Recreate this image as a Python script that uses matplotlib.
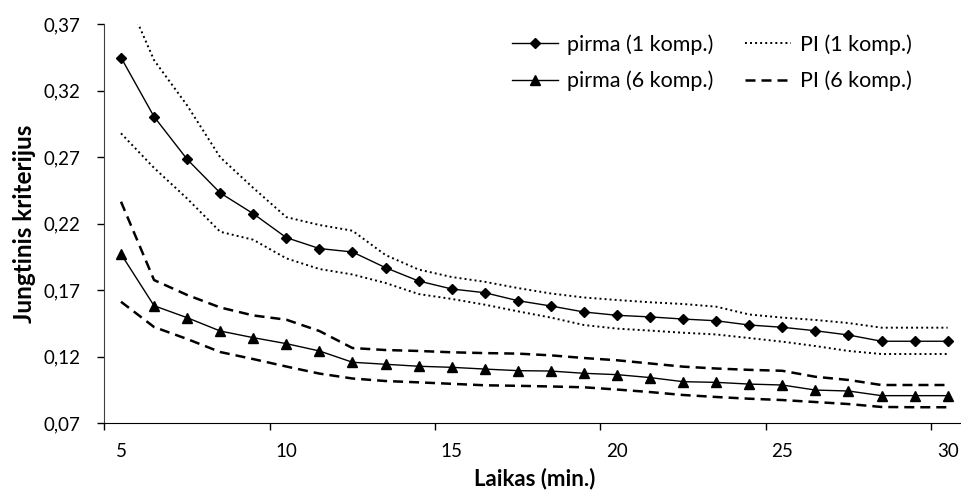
import matplotlib.pyplot as plt
from matplotlib.ticker import FixedLocator

# Laikas (min.) - kategorijos
laikas = list(range(5, 31))

# pirma (1 komp.) ir jos prognozes intervalas
pirma_1 = [0.345, 0.3005, 0.2685, 0.2432, 0.2276, 0.2096, 0.2014, 0.1988, 0.1870, 0.1770,
           0.1710, 0.1682, 0.1622, 0.1582, 0.1537, 0.1512, 0.1500, 0.1484, 0.1471, 0.1439,
           0.1422, 0.1396, 0.1364, 0.1317, 0.1317, 0.1317]
pi_1_virsus = [0.400, 0.343, 0.309, 0.270, 0.247, 0.225, 0.2191, 0.2148, 0.1965, 0.1856,
               0.1800, 0.1764, 0.1717, 0.1676, 0.1646, 0.1627, 0.1610, 0.1597, 0.1577, 0.1518,
               0.1495, 0.1477, 0.1454, 0.1419, 0.1419, 0.1419]
pi_1_apacia = [0.288, 0.262, 0.239, 0.214, 0.208, 0.194, 0.1860, 0.1819, 0.1755, 0.1672,
               0.1635, 0.1592, 0.1542, 0.1495, 0.1439, 0.1412, 0.1397, 0.1381, 0.1368, 0.1341,
               0.1314, 0.1281, 0.1244, 0.1221, 0.1221, 0.1221]

# pirma (6 komp.) ir jos prognozes intervalas
pirma_6 = [0.1973, 0.1584, 0.1494, 0.1394, 0.1344, 0.1299, 0.1244, 0.1159, 0.1144, 0.1129,
           0.1121, 0.1108, 0.1096, 0.1093, 0.1076, 0.1066, 0.1044, 0.1013, 0.1008, 0.0995,
           0.0988, 0.0950, 0.0943, 0.0908, 0.0908, 0.0908]
pi_6_virsus = [0.2366, 0.1777, 0.1665, 0.1571, 0.1511, 0.1479, 0.1394, 0.1266, 0.1251, 0.1244,
               0.1234, 0.1228, 0.1224, 0.1211, 0.1191, 0.1174, 0.1150, 0.1126, 0.1112, 0.1102,
               0.1095, 0.1050, 0.1026, 0.0988, 0.0988, 0.0988]
pi_6_apacia = [0.1614, 0.1424, 0.1334, 0.1236, 0.1183, 0.1127, 0.1074, 0.1037, 0.1018, 0.1008,
               0.0997, 0.0986, 0.0982, 0.0977, 0.0971, 0.0954, 0.0935, 0.0913, 0.0898, 0.0885,
               0.0875, 0.0860, 0.0845, 0.0823, 0.0821, 0.0821]

y_ticks = [0.07, 0.12, 0.17, 0.22, 0.27, 0.32, 0.37]
y_tick_labels = ["0,07", "0,12", "0,17", "0,22", "0,27", "0,32", "0,37"]
x_ticks = [5, 10, 15, 20, 25, 30]

plt.rcParams["font.family"] = ["Lato", "DejaVu Sans"]

fig = plt.figure(figsize=(9.61, 4.95), dpi=100)
ax = fig.add_axes([0.1087, 0.1448, 1.0033 - 0.1087, 0.951 - 0.1448])

taskai = (0, (1, 1.6))
bruksniai = (0, (4, 2.4))

l1, = ax.plot(laikas, pirma_1, color="black", lw=1.0, marker="D", markersize=5.6)
l2, = ax.plot(laikas, pirma_6, color="black", lw=1.0, marker="^", markersize=7.5)
p1, = ax.plot(laikas, pi_1_virsus, color="black", lw=1.4, linestyle=taskai)
ax.plot(laikas, pi_1_apacia, color="black", lw=1.4, linestyle=taskai)
p6, = ax.plot(laikas, pi_6_virsus, color="black", lw=1.8, linestyle=bruksniai)
ax.plot(laikas, pi_6_apacia, color="black", lw=1.8, linestyle=bruksniai)

ax.set_xlim(4.5, 30.5)
ax.set_ylim(0.07, 0.37)

ax.set_yticks(y_ticks)
ax.set_yticklabels(y_tick_labels)
ax.set_xticks(x_ticks)
ax.set_xticklabels([str(v) for v in x_ticks])
ax.xaxis.set_minor_locator(FixedLocator([4.5, 9.5, 14.5, 19.5, 24.5, 29.5]))
ax.tick_params(axis="x", which="major", length=0, pad=14, labelsize=13.5)
ax.tick_params(axis="x", which="minor", length=5, width=1, direction="out")
ax.tick_params(axis="y", length=5, width=1, direction="out", pad=12, labelsize=13.5)

ax.spines["top"].set_visible(False)
ax.spines["right"].set_visible(False)
ax.spines["left"].set_color("#404040")

ax.set_xlabel("Laikas (min.)", fontsize=16, fontweight="bold", labelpad=6)
ax.set_ylabel("Jungtinis kriterijus", fontsize=17.5, fontweight="bold", labelpad=6)

ax.legend([l1, l2, p1, p6],
          ["pirma (1 komp.)", "pirma (6 komp.)", "PI (1 komp.)", "PI (6 komp.)"],
          ncol=2, frameon=False, fontsize=15.5, handlelength=2.14,
          handletextpad=0.42, columnspacing=1.45, labelspacing=0.75,
          loc="upper left", bbox_to_anchor=(512 / 961, 1 - 34 / 495),
          bbox_transform=fig.transFigure, borderpad=0, borderaxespad=0)

fig.savefig("out.png", dpi=100)
